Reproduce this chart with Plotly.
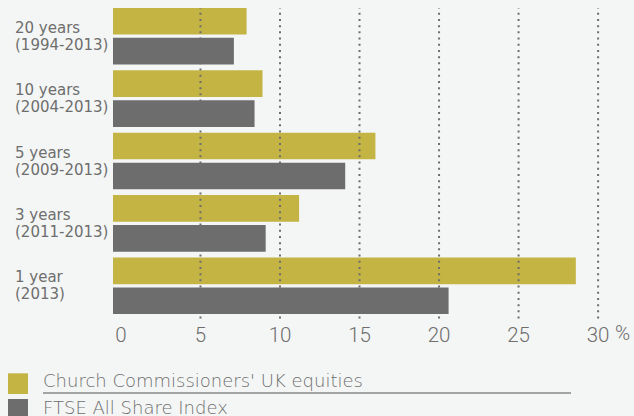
import plotly.graph_objects as go

# ---- data ----
periods = ["20 years<br>(1994-2013)", "10 years<br>(2004-2013)", "5 years<br>(2009-2013)",
           "3 years<br>(2011-2013)", "1 year<br>(2013)"]
church = [7.9, 8.9, 16.0, 11.2, 28.6]
ftse = [7.1, 8.4, 14.1, 9.1, 20.6]
series_names = ["Church Commissioners' UK equities", "FTSE All Share Index"]
tick_vals = [0, 5, 10, 15, 20, 25, 30]
tick_text = ["0", "5", "10", "15", "20", "25", "30"]

# ---- style ----
GOLD = "#c4b443"
GREY = "#6d6d6d"
BG = "#f4f6f5"
TXT = "#6e6e6e"
LABEL_FONT = "DejaVu Sans"
TICK_FONT = "Roboto"
BASE = -0.5  # bars start slightly left of zero in the original

W, H = 634, 416
ML, MR, MT, MB = 113, 20, 5, 99
PW, PH = W - ML - MR, H - MT - MB


def px_x(p):
    return (p - ML) / PW


def px_y(p):
    return (H - MB - p) / PH


fig = go.Figure()
for name, vals, col in [(series_names[0], church, GOLD), (series_names[1], ftse, GREY)]:
    fig.add_trace(go.Bar(
        y=periods, x=[v - BASE for v in vals], base=BASE, orientation="h",
        name=name, marker=dict(color=col, line=dict(width=0)),
        hoverinfo="skip",
    ))

# dotted gridlines drawn above the bars
for t in tick_vals[1:]:
    fig.add_shape(type="line", xref="x", yref="paper", x0=t, x1=t, y0=-0.005, y1=0.99,
                  line=dict(color=GREY, width=2, dash="2px,4.2px"), layer="above")

# category labels, left aligned, two lines each
for p in periods:
    for line, shift in zip(p.split("<br>"), (8.4, -8.6)):
        fig.add_annotation(x=px_x(13), xref="paper", y=p, yref="y", text=line,
                           showarrow=False, xanchor="left", yanchor="middle", yshift=shift,
                           font=dict(family=LABEL_FONT, size=15, color=TXT))

# % sign after last tick
fig.add_annotation(x=tick_vals[-1], xref="x", y=px_y(333), yref="paper", text="%",
                   showarrow=False, xanchor="left", xshift=15, yanchor="middle",
                   font=dict(family=TICK_FONT, size=20.5, color=TXT, weight=300))

# legend (custom)
legend_rows = [(series_names[0], GOLD, 373.3, 380.0), (series_names[1], GREY, 399.0, 407.2)]
for name, col, top, ty in legend_rows:
    fig.add_shape(type="rect", xref="paper", yref="paper",
                  x0=px_x(8), x1=px_x(28), y0=px_y(top), y1=px_y(top + 20.7),
                  fillcolor=col, line=dict(width=0))
    fig.add_annotation(x=px_x(41), xref="paper", y=px_y(ty), yref="paper", text=name,
                       showarrow=False, xanchor="left", yanchor="middle",
                       font=dict(family=LABEL_FONT, size=18, color=TXT, weight=300))
fig.add_shape(type="line", xref="paper", yref="paper", x0=px_x(43), x1=px_x(571),
              y0=px_y(393), y1=px_y(393), line=dict(color="#888888", width=1.5))

fig.update_layout(
    width=W, height=H,
    margin=dict(l=ML, r=MR, t=MT, b=MB, pad=0),
    paper_bgcolor=BG, plot_bgcolor=BG,
    barmode="group", bargap=0.04, bargroupgap=0.11,
    showlegend=False,
    xaxis=dict(range=[BASE, 31], tickvals=tick_vals, ticktext=tick_text,
               showgrid=False, zeroline=False, showline=False, ticks="",
               ticklabelstandoff=3,
               tickfont=dict(family=TICK_FONT, size=20.5, color=TXT, weight=300)),
    yaxis=dict(autorange="reversed", showticklabels=False, showgrid=False,
               zeroline=False, showline=False, ticks="", range=[4.5, -0.5]),
    font=dict(family=LABEL_FONT),
)

fig.write_html(
    "out.html",
    config={"displayModeBar": False},
    post_script="document.body.style.margin='0px';"
                "document.body.style.overflow='hidden';"
                "document.body.style.backgroundColor='" + BG + "';",
)
